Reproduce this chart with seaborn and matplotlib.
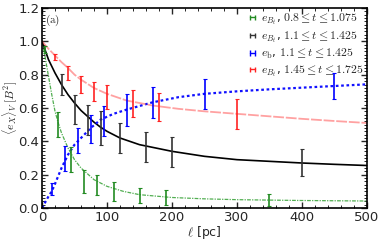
import numpy as np
import pandas as pd
import matplotlib
matplotlib.use("Agg")
import matplotlib.pyplot as plt
import seaborn as sns
from matplotlib.ticker import MultipleLocator
from matplotlib.container import ErrorbarContainer
from matplotlib.legend_handler import HandlerErrorbar

# ---- error-bar data ----
green_l = [5, 25, 45, 65, 85, 110, 150, 190, 350]
green_y = [0.95, 0.50, 0.29, 0.16, 0.14, 0.10, 0.077, 0.062, 0.048]
green_e = [0.02, 0.075, 0.075, 0.07, 0.06, 0.055, 0.045, 0.044, 0.036]

black_l = [30, 50, 70, 90, 120, 160, 200, 400]
black_y = [0.74, 0.59, 0.53, 0.48, 0.42, 0.367, 0.337, 0.273]
black_e = [0.065, 0.085, 0.09, 0.10, 0.09, 0.09, 0.09, 0.08]

blue_l = [15, 35, 55, 75, 95, 130, 170, 250, 450]
blue_y = [0.115, 0.30, 0.405, 0.475, 0.52, 0.587, 0.635, 0.685, 0.733]
blue_e = [0.035, 0.075, 0.075, 0.085, 0.09, 0.095, 0.092, 0.09, 0.078]

red_l = [20, 40, 60, 80, 100, 140, 180, 300]
red_y = [0.906, 0.81, 0.74, 0.70, 0.665, 0.627, 0.605, 0.565]
red_e = [0.02, 0.04, 0.05, 0.057, 0.07, 0.08, 0.083, 0.09]

# ---- fitted curves ----
green_cl = [0, 5, 10, 15, 20, 25, 30, 40, 50, 60, 80, 100, 125, 150, 200, 250, 300, 400, 500]
green_cy = [1.0, 0.90, 0.79, 0.68, 0.58, 0.51, 0.45, 0.36, 0.29, 0.24, 0.17, 0.13, 0.10, 0.08,
            0.063, 0.055, 0.05, 0.045, 0.042]

black_cl = [0, 10, 20, 30, 40, 50, 60, 70, 80, 90, 100, 120, 150, 200, 250, 300, 350, 400, 450, 500]
black_cy = [1.0, 0.89, 0.81, 0.74, 0.68, 0.63, 0.585, 0.55, 0.515, 0.485, 0.46, 0.42, 0.38,
            0.34, 0.31, 0.29, 0.28, 0.27, 0.262, 0.255]

blue_cl = [0, 5, 10, 15, 20, 30, 40, 50, 60, 75, 90, 110, 130, 170, 210, 250, 300, 350, 400, 450, 500]
blue_cy = [0.0, 0.035, 0.07, 0.10, 0.145, 0.24, 0.32, 0.38, 0.42, 0.48, 0.53, 0.565, 0.59,
           0.634, 0.665, 0.685, 0.70, 0.712, 0.722, 0.732, 0.742]

red_cl = [0, 10, 20, 30, 40, 50, 60, 80, 100, 130, 170, 210, 250, 300, 350, 400, 450, 500]
red_cy = [1.0, 0.955, 0.915, 0.875, 0.84, 0.80, 0.77, 0.72, 0.685, 0.645, 0.615, 0.595,
          0.58, 0.565, 0.55, 0.535, 0.522, 0.51]

labels = [r"$e_{B_t}$, $0.8\leq t\leq 1.075$",
          r"$e_{B_t}$, $1.1\leq t\leq 1.425$",
          r"$e_{\rm b}$, $1.1\leq t\leq 1.425$",
          r"$e_{B_t}$, $1.45\leq t\leq 1.725$"]

sns.set_theme(style="ticks")
plt.rcParams["font.family"] = ["DejaVu Sans"]
plt.rcParams["mathtext.fontset"] = "cm"

fig = plt.figure(figsize=(3.82, 2.4), dpi=100)
ax = fig.add_axes([0.11, 0.1333, 0.8507, 0.8334])

# curves
sns.lineplot(x=green_cl, y=green_cy, ax=ax, color="#33a033", lw=0.9,
             linestyle=(0, (3, 1, 1, 1)), alpha=0.85, legend=False)
sns.lineplot(x=black_cl, y=black_cy, ax=ax, color="black", lw=1.2, legend=False)
sns.lineplot(x=blue_cl, y=blue_cy, ax=ax, color="#1010ff", lw=1.6,
             linestyle=(0, (1.2, 1.2)), legend=False)
sns.lineplot(x=red_cl, y=red_cy, ax=ax, color="#ff5555", lw=1.3, alpha=0.55,
             linestyle=(0, (6, 1)), legend=False)

series = [
    (green_l, green_y, green_e, "#228B22"),
    (black_l, black_y, black_e, "#333333"),
    (blue_l, blue_y, blue_e, "#0000ff"),
    (red_l, red_y, red_e, "#ff2222"),
]
handles = []
for (l, y, e, c), lab in zip(series, labels):
    ax.errorbar(l, y, yerr=e, fmt="none", ecolor=c, elinewidth=1.2,
                capsize=1.6, capthick=0.8)
    h = ax.errorbar([], [], yerr=[], fmt="-", color=c, ecolor=c, lw=1.0,
                    elinewidth=1.0, capsize=0.0, capthick=0.8, label=lab)
    handles.append(h)

ax.set_xlim(0, 500)
ax.set_ylim(0, 1.2)
ax.xaxis.set_major_locator(MultipleLocator(100))
ax.xaxis.set_minor_locator(MultipleLocator(20))
ax.yaxis.set_major_locator(MultipleLocator(0.2))
ax.yaxis.set_minor_locator(MultipleLocator(0.02))
ax.set_yticks([0, 0.2, 0.4, 0.6, 0.8, 1.0, 1.2])
ax.set_yticklabels(["0.0", "0.2", "0.4", "0.6", "0.8", "1.0", "1.2"])
ax.tick_params(which="both", direction="in", top=True, right=True, labelsize=9.5, pad=2)
ax.tick_params(which="major", length=4, width=1.0)
ax.tick_params(which="minor", length=2, width=0.7)
for s in ax.spines.values():
    s.set_linewidth(1.2)
    s.set_color("black")

ax.set_xlabel(r"$\ell$ [pc]", fontsize=9, labelpad=0)
ax.set_ylabel(r"$\langle e_X \rangle_V\,[B^2]$", fontsize=8.5, labelpad=-0.5)
ax.text(0.01, 0.975, r"$\mathrm{(a)}$", transform=ax.transAxes, va="top", ha="left", fontsize=8)

leg = ax.legend(handles=handles, labels=labels, loc="upper right", frameon=False,
                fontsize=8.5, numpoints=2, handlelength=1.0, handletextpad=0.2,
                labelspacing=0.2, borderaxespad=0.1, borderpad=0.2,
                handler_map={ErrorbarContainer: HandlerErrorbar(yerr_size=0.22, numpoints=2)})

fig.savefig("out.png", dpi=100)
